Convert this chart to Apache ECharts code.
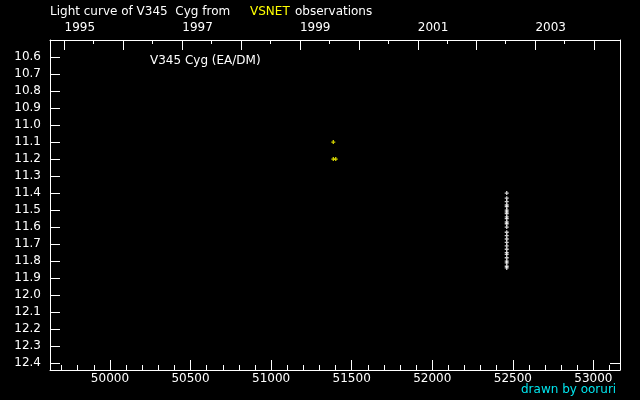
<!DOCTYPE html>
<html><head><meta charset="utf-8">
<script src="https://cdn.jsdelivr.net/npm/echarts@6/dist/echarts.min.js"></script>
<style>html,body{margin:0;padding:0;background:#000}#c{width:640px;height:400px}</style>
</head><body><div id="c"></div>
<script>
// ---- data ----
const mjdTicks = [50000, 50500, 51000, 51500, 52000, 52500, 53000];
const yearNames = ['1995', '1996', '1997', '1998', '1999', '2000', '2001', '2002', '2003', '2004'];
const yearStartMjd = [49718, 50083, 50449, 50814, 51179, 51544, 51910, 52275, 52640, 53005];
const yearMidMjd = [49899, 50265, 50630, 50995, 51360, 51726, 52091, 52456, 52821];
const yearLabelNames = ['1995', '1997', '1999', '2001', '2003'];
const magTicks = [10.6, 10.7, 10.8, 10.9, 11.0, 11.1, 11.2, 11.3, 11.4, 11.5, 11.6, 11.7, 11.8, 11.9, 12.0, 12.1, 12.2, 12.3, 12.4];
const rightMagTicks = [12.4];

const vsnetMjd = [51386, 51386, 51401];
const vsnetMag = [11.10, 11.20, 11.20];

const otherMjd = [52462, 52462, 52462, 52462, 52462, 52462, 52462, 52462, 52462, 52462, 52462, 52462, 52462,
                  52462, 52462, 52462, 52462, 52462, 52462, 52462, 52462, 52462, 52462, 52462, 52462, 52462];
const otherMag = [11.40, 11.43, 11.45, 11.47, 11.48, 11.50, 11.51, 11.52, 11.54, 11.55, 11.57, 11.58, 11.60,
                  11.63, 11.65, 11.67, 11.69, 11.71, 11.73, 11.75, 11.76, 11.78, 11.80, 11.81, 11.83, 11.84];

// ---- chart ----
const FONT = 'DejaVu Sans';
const WHITE = '#ffffff';
const xMin = 49628, xMax = 53165;
const yMin = 10.5, yMax = 12.44;

const minorMjd = [];
for (let v = 49700; v <= 53100; v += 100) if (v % 500 !== 0) minorMjd.push(v);

const yearLabelMjd = yearLabelNames.map(n => yearStartMjd[yearNames.indexOf(n)]);
const plus = 'path://M1,0L2,0L2,1L3,1L3,2L2,2L2,3L1,3L1,2L0,2L0,1L1,1Z';

const gridBox = { left: 50, top: 40, right: 20, bottom: 30 };
const lineStyle = { color: WHITE, width: 1 };
const txt = (color) => ({ color, fontSize: 12, fontWeight: 'normal', fontFamily: FONT });

const option = {
  backgroundColor: '#000000',
  animation: false,
  textStyle: { fontFamily: FONT },
  title: [
    { text: 'Light curve of V345  Cyg from', left: 50, top: 6, padding: 0, textStyle: txt(WHITE) },
    { text: 'VSNET', left: 250, top: 6, padding: 0, textStyle: txt('#ffff00') },
    { text: 'observations', left: 295, top: 6, padding: 0, textStyle: txt(WHITE) },
    { text: 'V345 Cyg (EA/DM)', left: 150, top: 55, padding: 0, textStyle: txt(WHITE) },
    { text: 'drawn by ooruri', left: 521, top: 384, padding: 0, textStyle: txt('#00e5ee') }
  ],
  grid: [Object.assign({}, gridBox), Object.assign({}, gridBox)],
  xAxis: [
    { gridIndex: 0, type: 'value', position: 'bottom', min: xMin, max: xMax,
      axisLine: { show: true, onZero: false, lineStyle },
      axisTick: { show: true, inside: true, length: 10, lineStyle, customValues: mjdTicks },
      axisLabel: { show: true, color: WHITE, fontSize: 12, fontFamily: FONT, margin: 3, customValues: mjdTicks, formatter: v => String(v) },
      splitLine: { show: false } },
    { gridIndex: 0, type: 'value', position: 'top', min: xMin, max: xMax,
      axisLine: { show: true, onZero: false, lineStyle },
      axisTick: { show: true, inside: true, length: 10, lineStyle, customValues: yearStartMjd },
      axisLabel: { show: true, color: WHITE, fontSize: 12, fontFamily: FONT, margin: 6, align: 'left', customValues: yearLabelMjd,
        formatter: v => { const i = yearStartMjd.indexOf(v); return i >= 0 ? yearNames[i] : ''; } },
      splitLine: { show: false } },
    { gridIndex: 1, type: 'value', position: 'bottom', min: xMin, max: xMax,
      axisLine: { show: false, onZero: false },
      axisTick: { show: true, inside: true, length: 5, lineStyle, customValues: minorMjd },
      axisLabel: { show: false }, splitLine: { show: false } },
    { gridIndex: 1, type: 'value', position: 'top', min: xMin, max: xMax,
      axisLine: { show: false, onZero: false },
      axisTick: { show: true, inside: true, length: 4, lineStyle, customValues: yearMidMjd },
      axisLabel: { show: false }, splitLine: { show: false } }
  ],
  yAxis: [
    { gridIndex: 0, type: 'value', position: 'left', inverse: true, min: yMin, max: yMax,
      axisLine: { show: true, onZero: false, lineStyle },
      axisTick: { show: true, inside: true, length: 10, lineStyle, customValues: magTicks },
      axisLabel: { show: true, color: WHITE, fontSize: 12, fontFamily: FONT, margin: 9, customValues: magTicks, formatter: v => v.toFixed(1) },
      splitLine: { show: false } },
    { gridIndex: 0, type: 'value', position: 'right', inverse: true, min: yMin, max: yMax,
      axisLine: { show: true, onZero: false, lineStyle },
      axisTick: { show: true, inside: true, length: 10, lineStyle, customValues: rightMagTicks },
      axisLabel: { show: false }, splitLine: { show: false } },
    { gridIndex: 1, type: 'value', show: false, inverse: true, min: yMin, max: yMax }
  ],
  series: [
    { name: 'VSNET', type: 'scatter', xAxisIndex: 0, yAxisIndex: 0, symbol: plus, symbolSize: 4,
      itemStyle: { color: '#ffff00' }, data: vsnetMjd.map((x, i) => [x, vsnetMag[i]]) },
    { name: 'other', type: 'scatter', xAxisIndex: 0, yAxisIndex: 0, symbol: plus, symbolSize: 4,
      itemStyle: { color: '#ffffff' }, data: otherMjd.map((x, i) => [x, otherMag[i]]) }
  ]
};

const chart = echarts.init(document.getElementById('c'), null, { renderer: 'canvas' });
chart.setOption(option);
</script>
</body></html>
